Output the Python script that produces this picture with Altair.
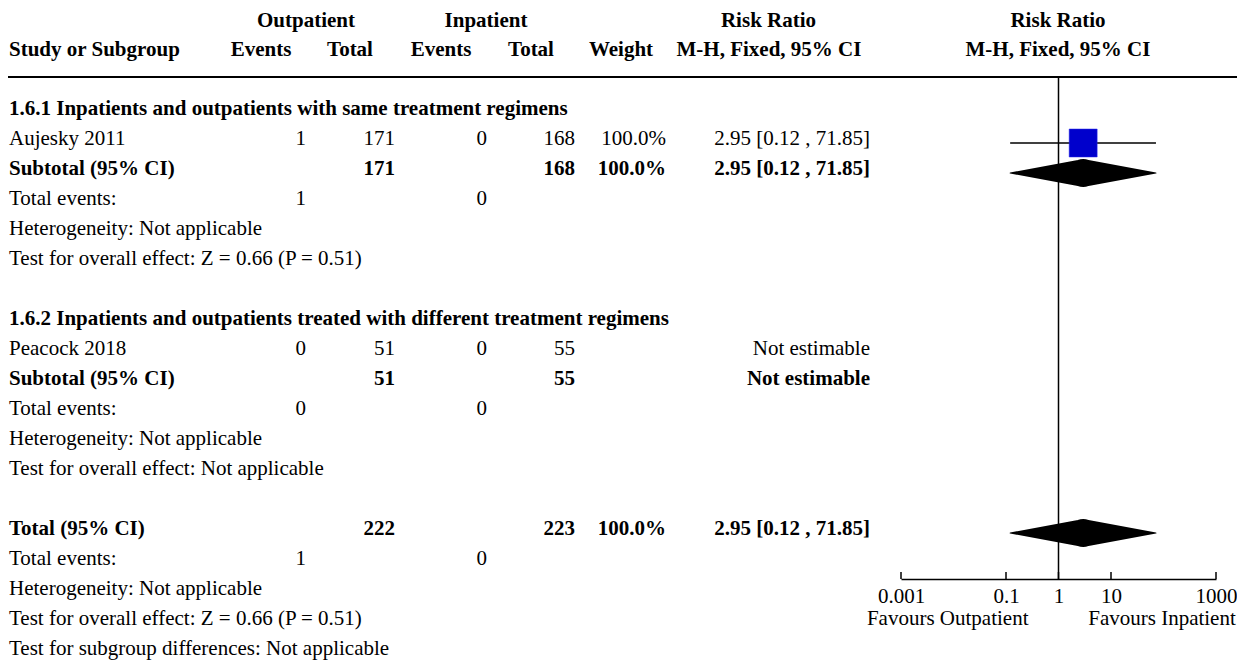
import altair as alt
import pandas as pd

FONT = "Liberation Serif"
FS = 21

# ---------------- data ----------------
row_labels = [
    "1.6.1 Inpatients and outpatients with same treatment regimens",
    "Aujesky 2011",
    "Subtotal (95% CI)",
    "Total events:",
    "Heterogeneity: Not applicable",
    "Test for overall effect: Z = 0.66 (P = 0.51)",
    "",
    "1.6.2 Inpatients and outpatients treated with different treatment regimens",
    "Peacock 2018",
    "Subtotal (95% CI)",
    "Total events:",
    "Heterogeneity: Not applicable",
    "Test for overall effect: Not applicable",
    "",
    "Total (95% CI)",
    "Total events:",
    "Heterogeneity: Not applicable",
    "Test for overall effect: Z = 0.66 (P = 0.51)",
    "Test for subgroup differences: Not applicable",
]
row_bold = [1, 0, 1, 0, 0, 0, 0, 1, 0, 1, 0, 0, 0, 0, 1, 0, 0, 0, 0]
out_events = ["", "1", "", "1", "", "", "", "", "0", "", "0", "", "", "", "", "1", "", "", ""]
out_total = ["", "171", "171", "", "", "", "", "", "51", "51", "", "", "", "", "222", "", "", "", ""]
in_events = ["", "0", "", "0", "", "", "", "", "0", "", "0", "", "", "", "", "0", "", "", ""]
in_total = ["", "168", "168", "", "", "", "", "", "55", "55", "", "", "", "", "223", "", "", "", ""]
weights = ["", "100.0%", "100.0%", "", "", "", "", "", "", "", "", "", "", "", "100.0%", "", "", "", ""]
rr_text = ["", "2.95 [0.12 , 71.85]", "2.95 [0.12 , 71.85]", "", "", "", "", "",
           "Not estimable", "Not estimable", "", "", "", "", "2.95 [0.12 , 71.85]", "", "", "", ""]

header_top = ["Outpatient", "Inpatient", "Risk Ratio", "Risk Ratio"]
header_bottom = ["Study or Subgroup", "Events", "Total", "Events", "Total", "Weight",
                 "M-H, Fixed, 95% CI", "M-H, Fixed, 95% CI"]

study_rows = [1]
study_rr = [2.95]
study_lo = [0.12]
study_hi = [71.85]

diamond_rows = [2, 14]
diamond_rr = [2.95, 2.95]
diamond_lo = [0.12, 0.12]
diamond_hi = [71.85, 71.85]

null_value = [1]
tick_values = [0.001, 0.1, 1, 10, 1000]
favour_labels = ["Favours Outpatient", "Favours Inpatient"]

# ---------------- layout ----------------
W, H = 1229, 571
col_layout = [  # (column list, x, align)
    (row_labels, 1, "left"),
    (out_events, 298, "right"),
    (out_total, 387, "right"),
    (in_events, 479, "right"),
    (in_total, 567, "right"),
    (weights, 658, "right"),
    (rr_text, 862, "right"),
]
top_x = [298, 478, 760.5, 1050]
bottom_x = [None, 253, 342, 433, 523, 613, 761, 1050]

yscale = alt.Scale(domain=[0, 18], range=[105, 645])
xscale = alt.Scale(type="log", domain=[0.001, 1000], range=[893, 1208], nice=False)
xaxis = alt.Axis(values=tick_values, format="~g", ticks=False, tickSize=0, labelPadding=6,
                 labelFont=FONT, labelFontSize=FS, labelColor="black", labelFlush=False,
                 labelOverlap=False, domainColor="black", domainWidth=1.5, grid=False)


def X(field):
    return alt.X(field, scale=xscale, axis=xaxis, title=None)


Y = alt.Y("row:Q", scale=yscale, axis=None)

layers = []

# table text
for i, (values, xpos, align) in enumerate(col_layout):
    recs = [{"row": r, "text": t, "bold": row_bold[r]} for r, t in enumerate(values) if t]
    df = pd.DataFrame(recs)
    for b in (0, 1):
        sub = df[df["bold"] == b]
        if len(sub) == 0:
            continue
        layers.append(
            alt.Chart(sub).mark_text(
                font=FONT, fontSize=FS, fontWeight="bold" if b else "normal",
                align=align, baseline="alphabetic", dy=2, color="black"
            ).encode(x=alt.value(xpos), y=Y, text="text:N")
        )

# headers
for txt, xpos in zip(header_top, top_x):
    layers.append(
        alt.Chart(pd.DataFrame({"t": [txt]})).mark_text(
            font=FONT, fontSize=FS, fontWeight="bold", align="center",
            baseline="alphabetic", color="black"
        ).encode(x=alt.value(xpos), y=alt.value(19), text="t:N")
    )
for txt, xpos in zip(header_bottom, bottom_x):
    align = "left" if xpos is None else "center"
    layers.append(
        alt.Chart(pd.DataFrame({"t": [txt]})).mark_text(
            font=FONT, fontSize=FS, fontWeight="bold", align=align,
            baseline="alphabetic", color="black"
        ).encode(x=alt.value(1 if xpos is None else xpos), y=alt.value(48), text="t:N")
    )

# header rule
layers.append(
    alt.Chart(pd.DataFrame({"a": [0]})).mark_rule(color="black", strokeWidth=2).encode(
        x=alt.value(0), x2=alt.value(W), y=alt.value(69)
    )
)

# line of no effect
layers.append(
    alt.Chart(pd.DataFrame({"v": null_value})).mark_rule(color="black", strokeWidth=1.5).encode(
        x=X("v:Q"), y=alt.value(69), y2=alt.value(H)
    )
)

# axis ticks (pointing up)
layers.append(
    alt.Chart(pd.DataFrame({"tick": tick_values})).mark_rule(color="black", strokeWidth=1.5).encode(
        x=X("tick:Q"), y=alt.value(H - 7), y2=alt.value(H)
    )
)

# study CI lines and squares
study_df = pd.DataFrame({"row": study_rows, "est": study_rr, "lo": study_lo, "hi": study_hi})
layers.append(
    alt.Chart(study_df).mark_rule(color="black", strokeWidth=1.5).encode(
        x=X("lo:Q"), x2="hi:Q", y=Y
    )
)
layers.append(
    alt.Chart(study_df).mark_point(shape="square", filled=True, size=784, fill="#0000CC",
                                   opacity=1, stroke="#2a2aee", strokeWidth=0.5).encode(
        x=X("est:Q"), y=Y
    )
)

# pooled diamonds
dia_df = pd.DataFrame({"row": diamond_rows, "est": diamond_rr, "lo": diamond_lo, "hi": diamond_hi})
layers.append(
    alt.Chart(dia_df).transform_fold(["lo", "est", "hi"], as_=["key", "val"]).transform_calculate(
        w="datum.key == 'est' ? 28 : 0"
    ).mark_trail(color="black").encode(
        x=X("val:Q"), y=Y, size=alt.Size("w:Q", scale=None, legend=None),
        detail="row:N", order=alt.Order("val:Q")
    )
)

# favours labels
for txt, xpos in zip(favour_labels, [939.7, 1154]):
    layers.append(
        alt.Chart(pd.DataFrame({"t": [txt]})).mark_text(
            font=FONT, fontSize=FS, align="center", baseline="alphabetic", color="black"
        ).encode(x=alt.value(xpos), y=alt.value(617), text="t:N")
    )

chart = alt.layer(*layers).properties(
    width=W, height=H,
    padding={"left": 0, "top": 0, "right": 0, "bottom": 82},
    autosize=alt.AutoSizeParams(type="none"),
    background="white",
).configure_view(strokeWidth=0)

chart.save("out.html", embed_options={"renderer": "svg", "actions": False})
